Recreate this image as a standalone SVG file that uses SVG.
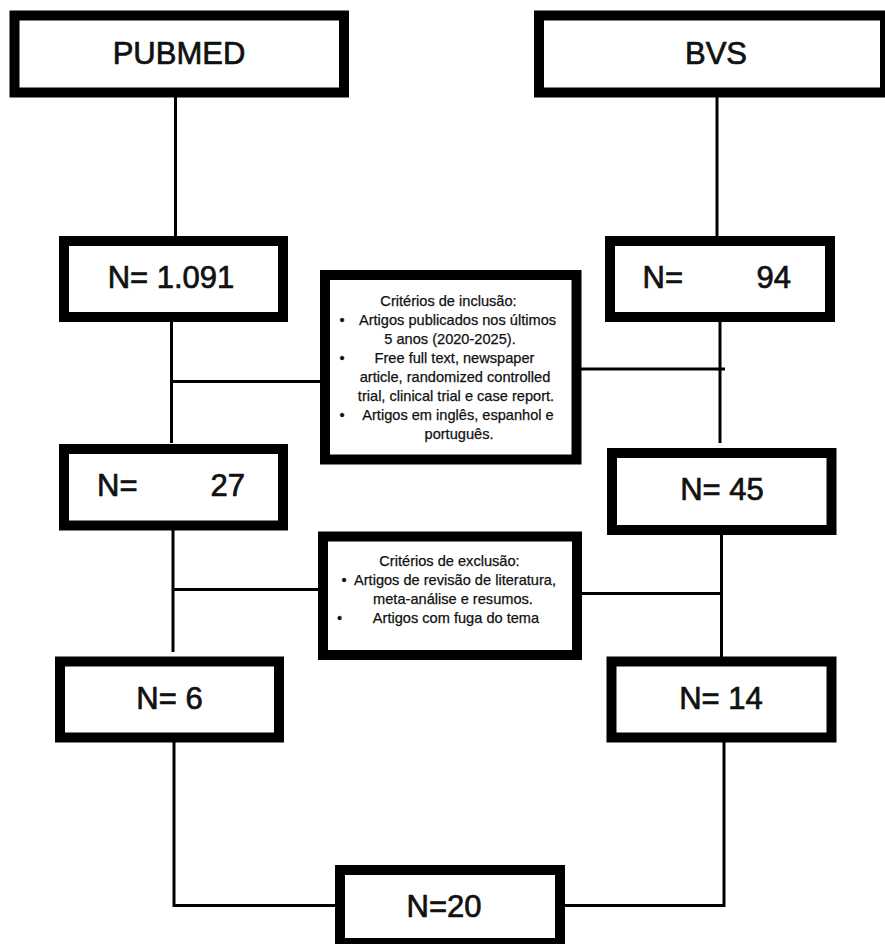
<svg xmlns="http://www.w3.org/2000/svg" width="885" height="944" viewBox="0 0 885 944">
<style>
.box{fill:#fff;stroke:#000;stroke-width:10}
.big{font-family:"Liberation Sans",Arial,sans-serif;font-size:31px;fill:#111;stroke:#111;stroke-width:0.7}
.sm{font-family:"Liberation Sans",Arial,sans-serif;font-size:14.6px;fill:#111;stroke:#111;stroke-width:0.25;text-anchor:middle}
.c{text-anchor:middle}
.ln{stroke:#000;stroke-width:3;fill:none}
</style>
<rect width="885" height="944" fill="#fff"/>
<g id="connectors">
<line class="ln" x1="175.5" y1="97" x2="175.5" y2="236"/>
<line class="ln" x1="171.5" y1="322" x2="171.5" y2="443"/>
<line class="ln" x1="171.5" y1="381.5" x2="320" y2="381.5"/>
<line class="ln" x1="173" y1="530" x2="173" y2="652"/>
<line class="ln" x1="173" y1="589.5" x2="318" y2="589.5"/>
<polyline class="ln" points="174,742 174,905.5 335,905.5"/>
<line class="ln" x1="717" y1="97" x2="717" y2="236"/>
<line class="ln" x1="720" y1="322" x2="720" y2="443"/>
<line class="ln" x1="581" y1="369" x2="725" y2="369"/>
<line class="ln" x1="721.5" y1="535" x2="721.5" y2="657"/>
<line class="ln" x1="582" y1="593.5" x2="721.5" y2="593.5"/>
<polyline class="ln" points="724,742 724,905.5 565,905.5"/>
</g>
<g id="pubmed">
<rect class="box" x="14.5" y="15.5" width="329.5" height="77"/>
<text class="big c" x="179" y="63.5">PUBMED</text>
</g>
<g id="bvs">
<rect class="box" x="539" y="15.5" width="346" height="77"/>
<text class="big c" x="716" y="63.5">BVS</text>
</g>
<g id="n1091">
<rect class="box" x="64" y="241" width="219" height="76"/>
<text class="big c" x="171" y="288">N= 1.091</text>
</g>
<g id="n94">
<rect class="box" x="610" y="241" width="220" height="76"/>
<text class="big" y="288"><tspan x="642.5">N=</tspan><tspan x="756.5">94</tspan></text>
</g>
<g id="inclusao">
<rect class="box" x="325" y="275" width="251.5" height="184.5"/>
<text class="sm" x="448.5" y="306">Critérios de inclusão:</text>
<text class="sm" x="342" y="325">•</text>
<text class="sm" x="457.5" y="325">Artigos publicados nos últimos</text>
<text class="sm" x="450" y="344">5 anos (2020-2025).</text>
<text class="sm" x="342" y="363">•</text>
<text class="sm" x="454.5" y="363">Free full text, newspaper</text>
<text class="sm" x="455" y="382">article, randomized controlled</text>
<text class="sm" x="456" y="401">trial, clinical trial e case report.</text>
<text class="sm" x="342" y="420">•</text>
<text class="sm" x="458" y="420">Artigos em inglês, espanhol e</text>
<text class="sm" x="459" y="438.5">português.</text>
</g>
<g id="n27">
<rect class="box" x="64" y="449" width="219" height="76.5"/>
<text class="big" y="496"><tspan x="97">N=</tspan><tspan x="210.5">27</tspan></text>
</g>
<g id="n45">
<rect class="box" x="612" y="453" width="219.5" height="77"/>
<text class="big c" x="722" y="500">N= 45</text>
</g>
<g id="exclusao">
<rect class="box" x="323" y="536.5" width="254" height="118.5"/>
<text class="sm" x="449.5" y="566">Critérios de exclusão:</text>
<text class="sm" x="344" y="585">•</text>
<text class="sm" x="455" y="585">Artigos de revisão de literatura,</text>
<text class="sm" x="453" y="604">meta-análise e resumos.</text>
<text class="sm" x="339.5" y="622.5">•</text>
<text class="sm" x="456" y="622.5">Artigos com fuga do tema</text>
</g>
<g id="n6">
<rect class="box" x="60" y="661.5" width="219" height="76"/>
<text class="big c" x="169.5" y="708.5">N= 6</text>
</g>
<g id="n14">
<rect class="box" x="611.5" y="661.5" width="220" height="76"/>
<text class="big c" x="721" y="708.5">N= 14</text>
</g>
<g id="n20">
<rect class="box" x="340" y="870" width="220" height="73"/>
<text class="big c" x="444" y="917">N=20</text>
</g>
</svg>
